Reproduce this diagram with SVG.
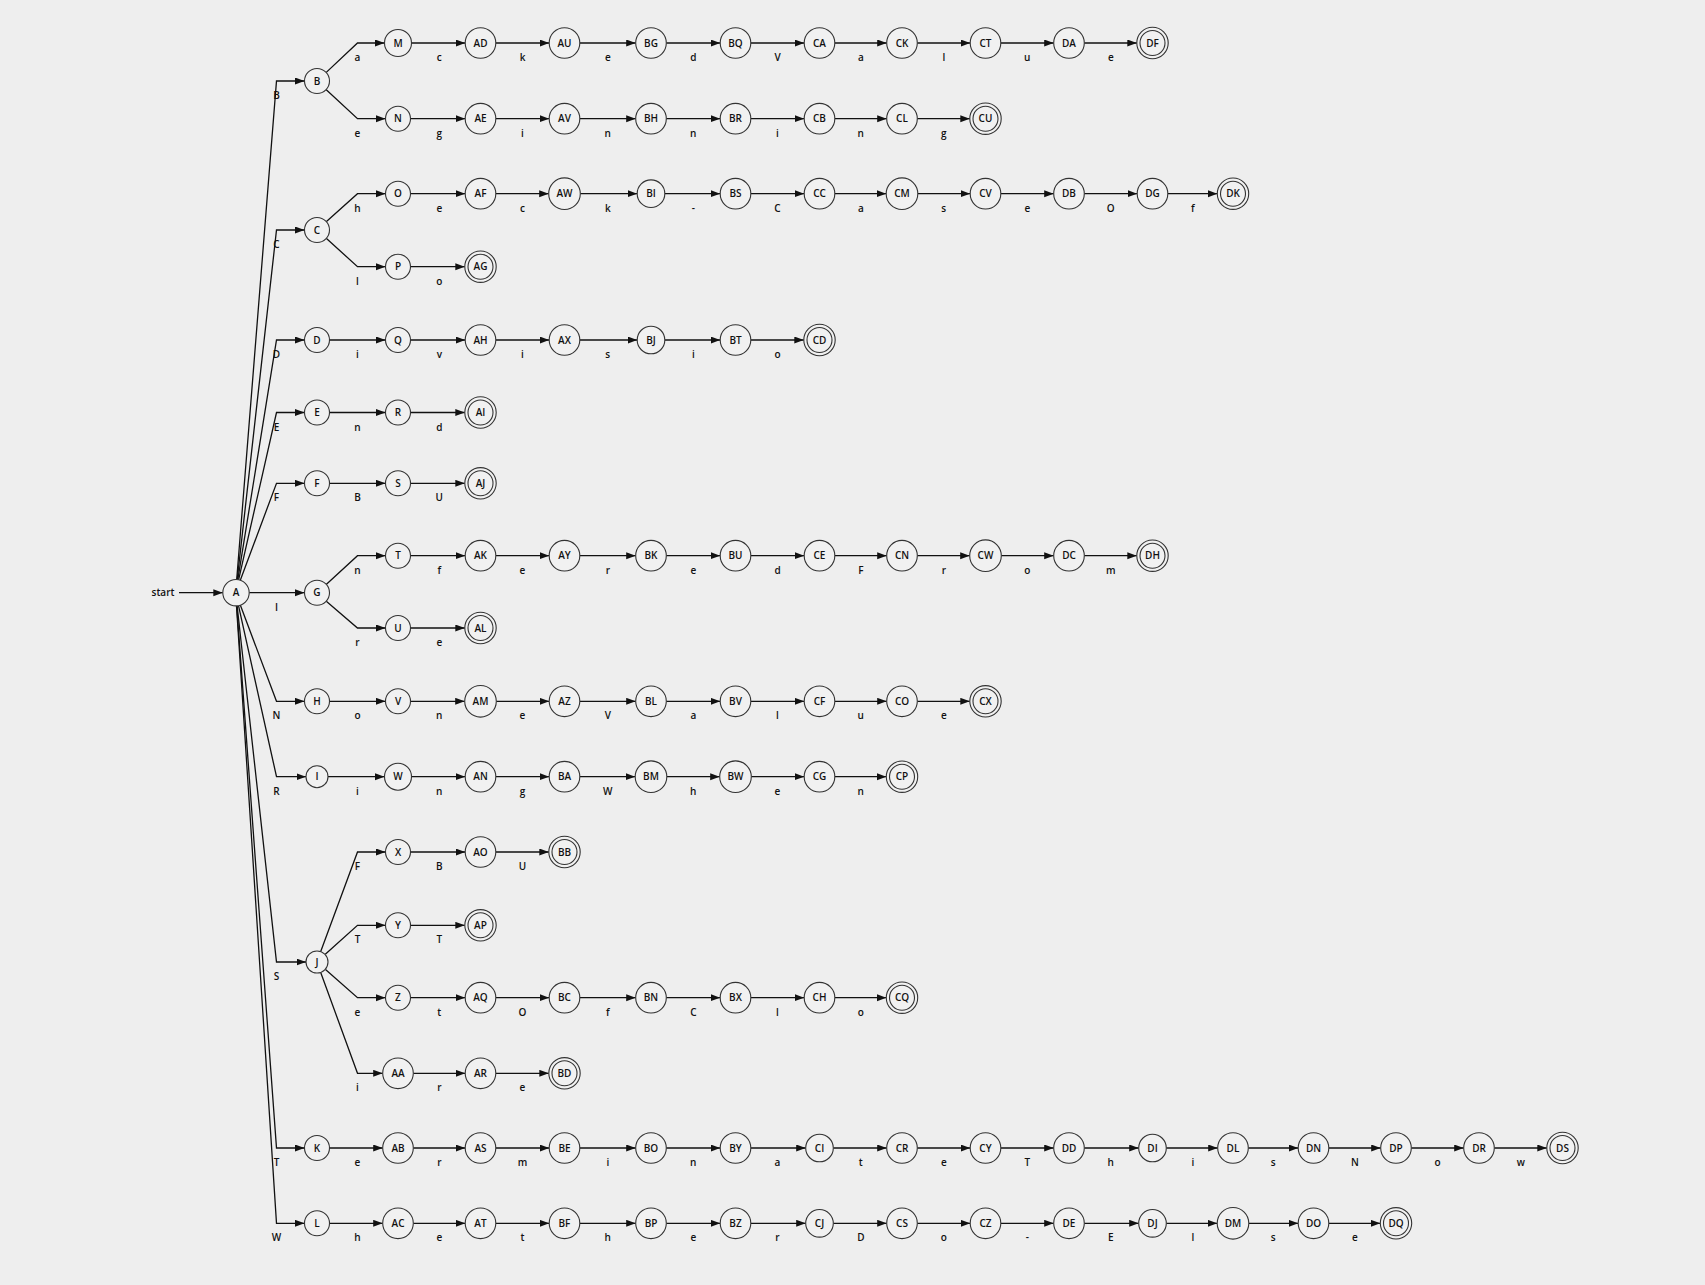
<svg xmlns="http://www.w3.org/2000/svg" width="1705" height="1285" viewBox="0 0 1705 1285">
<defs>
<marker id="ah" markerUnits="userSpaceOnUse" markerWidth="10" markerHeight="8" refX="9.5" refY="3.5" orient="auto">
<path d="M0,0 L9.5,3.5 L0,7 z" fill="#111"/>
</marker>
</defs>
<style>
.bg{fill:#eeeeee}
.n circle{fill:#f1f1f1;stroke:#333;stroke-width:1.1}
.n text,.lbl text,.st{font-family:"Open Sans","Liberation Sans",sans-serif;font-size:10px;font-weight:600;fill:#111;text-anchor:middle}
.edges path{fill:none;stroke:#111;stroke-width:1.3;marker-end:url(#ah)}
</style>
<rect class="bg" x="0" y="0" width="1705" height="1285"/>
<g id="connectors">
<g class="edges">
<path d="M179 592.7 H222.8"/>
<path d="M249.2 592.7 H304.5"/>
<path d="M236.7 579.5 L276.5 81 H304.5"/>
<path d="M237.2 579.6 L276.5 230 H304.5"/>
<path d="M237.8 579.7 L276.5 340 H304.5"/>
<path d="M238.6 579.8 L276.5 412.5 H304.5"/>
<path d="M240.3 580.3 L276.5 483.3 H304.5"/>
<path d="M240.3 605.1 L276.5 701.3 H304.5"/>
<path d="M238.5 605.6 L276.5 776.7 H306"/>
<path d="M237.1 605.8 L276.5 962 H306"/>
<path d="M236.7 605.9 L276.5 1148 H304.5"/>
<path d="M236.5 605.9 L276.5 1223.3 H304.5"/>
<path d="M326 72.6 L357.5 43 H384.5"/>
<path d="M411.5 43 H465.2"/><path d="M495.8 43 H549.2"/><path d="M579.8 43 H635.7"/><path d="M666.3 43 H720.2"/><path d="M750.8 43 H804.2"/><path d="M834.8 43 H886.7"/><path d="M917.3 43 H970.2"/><path d="M1000.8 43 H1053.7"/><path d="M1084.3 43 H1136.8"/>
<path d="M326 89.4 L357.5 118.7 H385.5"/>
<path d="M410.5 118.7 H465.2"/><path d="M495.8 118.7 H549.2"/><path d="M579.8 118.7 H635.7"/><path d="M666.3 118.7 H720.2"/><path d="M750.8 118.7 H804.2"/><path d="M834.8 118.7 H886.7"/><path d="M917.3 118.7 H969.8"/>
<path d="M326.2 221.8 L357.5 193.7 H385.5"/>
<path d="M410.5 193.7 H465.2"/><path d="M495.8 193.7 H548.7"/><path d="M580.3 193.7 H637.2"/><path d="M664.8 193.7 H720.2"/><path d="M750.8 193.7 H804.2"/><path d="M834.8 193.7 H886.2"/><path d="M917.8 193.7 H970.2"/><path d="M1000.8 193.7 H1053.7"/><path d="M1084.3 193.7 H1137.2"/><path d="M1167.8 193.7 H1217.3"/>
<path d="M326.2 238.2 L357.5 266.7 H385.5"/>
<path d="M410.5 266.7 H464.8"/>
<path d="M329.5 340 H385.5"/><path d="M410.5 340 H465.2"/><path d="M495.8 340 H549.2"/><path d="M579.8 340 H637.2"/><path d="M664.8 340 H720.2"/><path d="M750.8 340 H803.8"/>
<path d="M329.5 412.5 H385.5"/><path d="M410.5 412.5 H464.8"/>
<path d="M329.5 483.3 H385.5"/><path d="M410.5 483.3 H464.8"/>
<path d="M326.2 584.5 L357.5 555.7 H385.5"/>
<path d="M410.5 555.7 H465.2"/><path d="M495.8 555.7 H549.2"/><path d="M579.8 555.7 H635.7"/><path d="M666.3 555.7 H720.2"/><path d="M750.8 555.7 H804.2"/><path d="M834.8 555.7 H886.7"/><path d="M917.3 555.7 H969.7"/><path d="M1001.3 555.7 H1053.7"/><path d="M1084.3 555.7 H1136.8"/>
<path d="M326.3 601.3 L357.5 628 H385.5"/>
<path d="M410.5 628 H464.8"/>
<path d="M329.5 701.3 H385.5"/><path d="M410.5 701.3 H464.7"/><path d="M496.3 701.3 H549.2"/><path d="M579.8 701.3 H635.7"/><path d="M666.3 701.3 H720.2"/><path d="M750.8 701.3 H804.2"/><path d="M834.8 701.3 H886.7"/><path d="M917.3 701.3 H969.8"/>
<path d="M328 776.7 H384.5"/><path d="M411.5 776.7 H465.2"/><path d="M495.8 776.7 H549.2"/><path d="M579.8 776.7 H635.2"/><path d="M666.8 776.7 H719.7"/><path d="M751.3 776.7 H804.2"/><path d="M834.8 776.7 H886.3"/>
<path d="M320.8 951.2 L357.5 852 H385.5"/>
<path d="M410.5 852 H465.2"/><path d="M495.8 852 H548.8"/>
<path d="M325.3 954.3 L357.5 925.3 H385.5"/>
<path d="M410.5 925.3 H464.8"/>
<path d="M325.5 969.6 L357.5 997.7 H385.5"/>
<path d="M410.5 997.7 H465.2"/><path d="M495.8 997.7 H549.2"/><path d="M579.8 997.7 H635.7"/><path d="M666.3 997.7 H720.2"/><path d="M750.8 997.7 H804.2"/><path d="M834.8 997.7 H886.3"/>
<path d="M320.8 972.8 L357.5 1073.3 H382.7"/>
<path d="M413.3 1073.3 H465.2"/><path d="M495.8 1073.3 H548.8"/>
<path d="M329.5 1148 H382.7"/><path d="M413.3 1148 H465.2"/><path d="M495.8 1148 H549.2"/><path d="M579.8 1148 H635.7"/><path d="M666.3 1148 H720.2"/><path d="M750.8 1148 H805.7"/><path d="M833.3 1148 H886.7"/><path d="M917.3 1148 H970.2"/><path d="M1000.8 1148 H1053.7"/><path d="M1084.3 1148 H1138.7"/><path d="M1166.3 1148 H1217.7"/><path d="M1248.3 1148 H1298.2"/><path d="M1328.8 1148 H1380.7"/><path d="M1411.3 1148 H1463.7"/><path d="M1494.3 1148 H1546.8"/>
<path d="M329.5 1223.3 H382.7"/><path d="M413.3 1223.3 H465.2"/><path d="M495.8 1223.3 H549.2"/><path d="M579.8 1223.3 H635.7"/><path d="M666.3 1223.3 H720.2"/><path d="M750.8 1223.3 H805.7"/><path d="M833.3 1223.3 H886.7"/><path d="M917.3 1223.3 H970.2"/><path d="M1000.8 1223.3 H1053.7"/><path d="M1084.3 1223.3 H1138.7"/><path d="M1166.3 1223.3 H1217.2"/><path d="M1248.8 1223.3 H1298.2"/><path d="M1328.8 1223.3 H1380.3"/>
</g>
<g class="lbl">
<text x="276.5" y="99">B</text><text x="276.5" y="248">C</text><text x="276.5" y="358">D</text><text x="276.5" y="430.5">E</text><text x="276.5" y="501.3">F</text><text x="276.5" y="610.7">I</text><text x="276.5" y="719.3">N</text><text x="276.5" y="794.7">R</text><text x="276.5" y="980">S</text><text x="276.5" y="1166">T</text><text x="276.5" y="1241.3">W</text>
<text x="357.5" y="61">a</text><text x="439.3" y="61">c</text><text x="522.5" y="61">k</text><text x="607.8" y="61">e</text><text x="693.3" y="61">d</text><text x="777.5" y="61">V</text><text x="860.8" y="61">a</text><text x="943.8" y="61">l</text><text x="1027.3" y="61">u</text><text x="1110.8" y="61">e</text>
<text x="357.5" y="136.7">e</text><text x="439.3" y="136.7">g</text><text x="522.5" y="136.7">i</text><text x="607.8" y="136.7">n</text><text x="693.3" y="136.7">n</text><text x="777.5" y="136.7">i</text><text x="860.8" y="136.7">n</text><text x="943.8" y="136.7">g</text>
<text x="357.5" y="211.7">h</text><text x="439.3" y="211.7">e</text><text x="522.5" y="211.7">c</text><text x="607.8" y="211.7">k</text><text x="693.3" y="211.7">-</text><text x="777.5" y="211.7">C</text><text x="860.8" y="211.7">a</text><text x="943.8" y="211.7">s</text><text x="1027.3" y="211.7">e</text><text x="1110.8" y="211.7">O</text><text x="1192.8" y="211.7">f</text>
<text x="357.5" y="284.7">l</text><text x="439.3" y="284.7">o</text>
<text x="357.5" y="358">i</text><text x="439.3" y="358">v</text><text x="522.5" y="358">i</text><text x="607.8" y="358">s</text><text x="693.3" y="358">i</text><text x="777.5" y="358">o</text>
<text x="357.5" y="430.5">n</text><text x="439.3" y="430.5">d</text>
<text x="357.5" y="501.3">B</text><text x="439.3" y="501.3">U</text>
<text x="357.5" y="573.7">n</text><text x="439.3" y="573.7">f</text><text x="522.5" y="573.7">e</text><text x="607.8" y="573.7">r</text><text x="693.3" y="573.7">e</text><text x="777.5" y="573.7">d</text><text x="860.8" y="573.7">F</text><text x="943.8" y="573.7">r</text><text x="1027.3" y="573.7">o</text><text x="1110.8" y="573.7">m</text>
<text x="357.5" y="646">r</text><text x="439.3" y="646">e</text>
<text x="357.5" y="719.3">o</text><text x="439.3" y="719.3">n</text><text x="522.5" y="719.3">e</text><text x="607.8" y="719.3">V</text><text x="693.3" y="719.3">a</text><text x="777.5" y="719.3">l</text><text x="860.8" y="719.3">u</text><text x="943.8" y="719.3">e</text>
<text x="357.5" y="794.7">i</text><text x="439.3" y="794.7">n</text><text x="522.5" y="794.7">g</text><text x="607.8" y="794.7">W</text><text x="693.3" y="794.7">h</text><text x="777.5" y="794.7">e</text><text x="860.8" y="794.7">n</text>
<text x="357.5" y="870">F</text><text x="439.3" y="870">B</text><text x="522.5" y="870">U</text>
<text x="357.5" y="943.3">T</text><text x="439.3" y="943.3">T</text>
<text x="357.5" y="1015.7">e</text><text x="439.3" y="1015.7">t</text><text x="522.5" y="1015.7">O</text><text x="607.8" y="1015.7">f</text><text x="693.3" y="1015.7">C</text><text x="777.5" y="1015.7">l</text><text x="860.8" y="1015.7">o</text>
<text x="357.5" y="1091.3">i</text><text x="439.3" y="1091.3">r</text><text x="522.5" y="1091.3">e</text>
<text x="357.5" y="1166">e</text><text x="439.3" y="1166">r</text><text x="522.5" y="1166">m</text><text x="607.8" y="1166">i</text><text x="693.3" y="1166">n</text><text x="777.5" y="1166">a</text><text x="860.8" y="1166">t</text><text x="943.8" y="1166">e</text><text x="1027.3" y="1166">T</text><text x="1110.8" y="1166">h</text><text x="1192.8" y="1166">i</text><text x="1273.3" y="1166">s</text><text x="1354.8" y="1166">N</text><text x="1437.5" y="1166">o</text><text x="1520.8" y="1166">w</text>
<text x="357.5" y="1241.3">h</text><text x="439.3" y="1241.3">e</text><text x="522.5" y="1241.3">t</text><text x="607.8" y="1241.3">h</text><text x="693.3" y="1241.3">e</text><text x="777.5" y="1241.3">r</text><text x="860.8" y="1241.3">D</text><text x="943.8" y="1241.3">o</text><text x="1027.3" y="1241.3">-</text><text x="1110.8" y="1241.3">E</text><text x="1192.8" y="1241.3">l</text><text x="1273.3" y="1241.3">s</text><text x="1354.8" y="1241.3">e</text>
</g>
</g>
<g id="start"><text class="st" x="163" y="596.3">start</text></g>
<g id="A" class="n"><circle cx="236" cy="592.7" r="13.2"/><text x="236" y="596.3">A</text></g>
<g id="B" class="n"><circle cx="317" cy="81" r="12.5"/><text x="317" y="84.6">B</text></g>
<g id="C" class="n"><circle cx="317" cy="230" r="12.5"/><text x="317" y="233.6">C</text></g>
<g id="D" class="n"><circle cx="317" cy="340" r="12.5"/><text x="317" y="343.6">D</text></g>
<g id="E" class="n"><circle cx="317" cy="412.5" r="12.5"/><text x="317" y="416.1">E</text></g>
<g id="F" class="n"><circle cx="317" cy="483.3" r="12.5"/><text x="317" y="486.9">F</text></g>
<g id="G" class="n"><circle cx="317" cy="592.7" r="12.5"/><text x="317" y="596.3">G</text></g>
<g id="H" class="n"><circle cx="317" cy="701.3" r="12.5"/><text x="317" y="704.9">H</text></g>
<g id="I" class="n"><circle cx="317" cy="776.7" r="11"/><text x="317" y="780.3">I</text></g>
<g id="J" class="n"><circle cx="317" cy="962" r="11"/><text x="317" y="965.6">J</text></g>
<g id="K" class="n"><circle cx="317" cy="1148" r="12.5"/><text x="317" y="1151.6">K</text></g>
<g id="L" class="n"><circle cx="317" cy="1223.3" r="12.5"/><text x="317" y="1226.9">L</text></g>
<g id="M" class="n"><circle cx="398" cy="43" r="13.5"/><text x="398" y="46.6">M</text></g>
<g id="N" class="n"><circle cx="398" cy="118.7" r="12.5"/><text x="398" y="122.3">N</text></g>
<g id="O" class="n"><circle cx="398" cy="193.7" r="12.5"/><text x="398" y="197.3">O</text></g>
<g id="P" class="n"><circle cx="398" cy="266.7" r="12.5"/><text x="398" y="270.3">P</text></g>
<g id="Q" class="n"><circle cx="398" cy="340" r="12.5"/><text x="398" y="343.6">Q</text></g>
<g id="R" class="n"><circle cx="398" cy="412.5" r="12.5"/><text x="398" y="416.1">R</text></g>
<g id="S" class="n"><circle cx="398" cy="483.3" r="12.5"/><text x="398" y="486.9">S</text></g>
<g id="T" class="n"><circle cx="398" cy="555.7" r="12.5"/><text x="398" y="559.3">T</text></g>
<g id="U" class="n"><circle cx="398" cy="628" r="12.5"/><text x="398" y="631.6">U</text></g>
<g id="V" class="n"><circle cx="398" cy="701.3" r="12.5"/><text x="398" y="704.9">V</text></g>
<g id="W" class="n"><circle cx="398" cy="776.7" r="13.5"/><text x="398" y="780.3">W</text></g>
<g id="X" class="n"><circle cx="398" cy="852" r="12.5"/><text x="398" y="855.6">X</text></g>
<g id="Y" class="n"><circle cx="398" cy="925.3" r="12.5"/><text x="398" y="928.9">Y</text></g>
<g id="Z" class="n"><circle cx="398" cy="997.7" r="12.5"/><text x="398" y="1001.3">Z</text></g>
<g id="AA" class="n"><circle cx="398" cy="1073.3" r="15.3"/><text x="398" y="1076.9">AA</text></g>
<g id="AB" class="n"><circle cx="398" cy="1148" r="15.3"/><text x="398" y="1151.6">AB</text></g>
<g id="AC" class="n"><circle cx="398" cy="1223.3" r="15.3"/><text x="398" y="1226.9">AC</text></g>
<g id="AD" class="n"><circle cx="480.5" cy="43" r="15.3"/><text x="480.5" y="46.6">AD</text></g>
<g id="AE" class="n"><circle cx="480.5" cy="118.7" r="15.3"/><text x="480.5" y="122.3">AE</text></g>
<g id="AF" class="n"><circle cx="480.5" cy="193.7" r="15.3"/><text x="480.5" y="197.3">AF</text></g>
<g id="AG" class="n"><circle cx="480.5" cy="266.7" r="15.7"/><circle cx="480.5" cy="266.7" r="12.5"/><text x="480.5" y="270.3">AG</text></g>
<g id="AH" class="n"><circle cx="480.5" cy="340" r="15.3"/><text x="480.5" y="343.6">AH</text></g>
<g id="AI" class="n"><circle cx="480.5" cy="412.5" r="15.7"/><circle cx="480.5" cy="412.5" r="12.5"/><text x="480.5" y="416.1">AI</text></g>
<g id="AJ" class="n"><circle cx="480.5" cy="483.3" r="15.7"/><circle cx="480.5" cy="483.3" r="12.5"/><text x="480.5" y="486.9">AJ</text></g>
<g id="AK" class="n"><circle cx="480.5" cy="555.7" r="15.3"/><text x="480.5" y="559.3">AK</text></g>
<g id="AL" class="n"><circle cx="480.5" cy="628" r="15.7"/><circle cx="480.5" cy="628" r="12.5"/><text x="480.5" y="631.6">AL</text></g>
<g id="AM" class="n"><circle cx="480.5" cy="701.3" r="15.8"/><text x="480.5" y="704.9">AM</text></g>
<g id="AN" class="n"><circle cx="480.5" cy="776.7" r="15.3"/><text x="480.5" y="780.3">AN</text></g>
<g id="AO" class="n"><circle cx="480.5" cy="852" r="15.3"/><text x="480.5" y="855.6">AO</text></g>
<g id="AP" class="n"><circle cx="480.5" cy="925.3" r="15.7"/><circle cx="480.5" cy="925.3" r="12.5"/><text x="480.5" y="928.9">AP</text></g>
<g id="AQ" class="n"><circle cx="480.5" cy="997.7" r="15.3"/><text x="480.5" y="1001.3">AQ</text></g>
<g id="AR" class="n"><circle cx="480.5" cy="1073.3" r="15.3"/><text x="480.5" y="1076.9">AR</text></g>
<g id="AS" class="n"><circle cx="480.5" cy="1148" r="15.3"/><text x="480.5" y="1151.6">AS</text></g>
<g id="AT" class="n"><circle cx="480.5" cy="1223.3" r="15.3"/><text x="480.5" y="1226.9">AT</text></g>
<g id="AU" class="n"><circle cx="564.5" cy="43" r="15.3"/><text x="564.5" y="46.6">AU</text></g>
<g id="AV" class="n"><circle cx="564.5" cy="118.7" r="15.3"/><text x="564.5" y="122.3">AV</text></g>
<g id="AW" class="n"><circle cx="564.5" cy="193.7" r="15.8"/><text x="564.5" y="197.3">AW</text></g>
<g id="AX" class="n"><circle cx="564.5" cy="340" r="15.3"/><text x="564.5" y="343.6">AX</text></g>
<g id="AY" class="n"><circle cx="564.5" cy="555.7" r="15.3"/><text x="564.5" y="559.3">AY</text></g>
<g id="AZ" class="n"><circle cx="564.5" cy="701.3" r="15.3"/><text x="564.5" y="704.9">AZ</text></g>
<g id="BA" class="n"><circle cx="564.5" cy="776.7" r="15.3"/><text x="564.5" y="780.3">BA</text></g>
<g id="BB" class="n"><circle cx="564.5" cy="852" r="15.7"/><circle cx="564.5" cy="852" r="12.5"/><text x="564.5" y="855.6">BB</text></g>
<g id="BC" class="n"><circle cx="564.5" cy="997.7" r="15.3"/><text x="564.5" y="1001.3">BC</text></g>
<g id="BD" class="n"><circle cx="564.5" cy="1073.3" r="15.7"/><circle cx="564.5" cy="1073.3" r="12.5"/><text x="564.5" y="1076.9">BD</text></g>
<g id="BE" class="n"><circle cx="564.5" cy="1148" r="15.3"/><text x="564.5" y="1151.6">BE</text></g>
<g id="BF" class="n"><circle cx="564.5" cy="1223.3" r="15.3"/><text x="564.5" y="1226.9">BF</text></g>
<g id="BG" class="n"><circle cx="651" cy="43" r="15.3"/><text x="651" y="46.6">BG</text></g>
<g id="BH" class="n"><circle cx="651" cy="118.7" r="15.3"/><text x="651" y="122.3">BH</text></g>
<g id="BI" class="n"><circle cx="651" cy="193.7" r="13.8"/><text x="651" y="197.3">BI</text></g>
<g id="BJ" class="n"><circle cx="651" cy="340" r="13.8"/><text x="651" y="343.6">BJ</text></g>
<g id="BK" class="n"><circle cx="651" cy="555.7" r="15.3"/><text x="651" y="559.3">BK</text></g>
<g id="BL" class="n"><circle cx="651" cy="701.3" r="15.3"/><text x="651" y="704.9">BL</text></g>
<g id="BM" class="n"><circle cx="651" cy="776.7" r="15.8"/><text x="651" y="780.3">BM</text></g>
<g id="BN" class="n"><circle cx="651" cy="997.7" r="15.3"/><text x="651" y="1001.3">BN</text></g>
<g id="BO" class="n"><circle cx="651" cy="1148" r="15.3"/><text x="651" y="1151.6">BO</text></g>
<g id="BP" class="n"><circle cx="651" cy="1223.3" r="15.3"/><text x="651" y="1226.9">BP</text></g>
<g id="BQ" class="n"><circle cx="735.5" cy="43" r="15.3"/><text x="735.5" y="46.6">BQ</text></g>
<g id="BR" class="n"><circle cx="735.5" cy="118.7" r="15.3"/><text x="735.5" y="122.3">BR</text></g>
<g id="BS" class="n"><circle cx="735.5" cy="193.7" r="15.3"/><text x="735.5" y="197.3">BS</text></g>
<g id="BT" class="n"><circle cx="735.5" cy="340" r="15.3"/><text x="735.5" y="343.6">BT</text></g>
<g id="BU" class="n"><circle cx="735.5" cy="555.7" r="15.3"/><text x="735.5" y="559.3">BU</text></g>
<g id="BV" class="n"><circle cx="735.5" cy="701.3" r="15.3"/><text x="735.5" y="704.9">BV</text></g>
<g id="BW" class="n"><circle cx="735.5" cy="776.7" r="15.8"/><text x="735.5" y="780.3">BW</text></g>
<g id="BX" class="n"><circle cx="735.5" cy="997.7" r="15.3"/><text x="735.5" y="1001.3">BX</text></g>
<g id="BY" class="n"><circle cx="735.5" cy="1148" r="15.3"/><text x="735.5" y="1151.6">BY</text></g>
<g id="BZ" class="n"><circle cx="735.5" cy="1223.3" r="15.3"/><text x="735.5" y="1226.9">BZ</text></g>
<g id="CA" class="n"><circle cx="819.5" cy="43" r="15.3"/><text x="819.5" y="46.6">CA</text></g>
<g id="CB" class="n"><circle cx="819.5" cy="118.7" r="15.3"/><text x="819.5" y="122.3">CB</text></g>
<g id="CC" class="n"><circle cx="819.5" cy="193.7" r="15.3"/><text x="819.5" y="197.3">CC</text></g>
<g id="CD" class="n"><circle cx="819.5" cy="340" r="15.7"/><circle cx="819.5" cy="340" r="12.5"/><text x="819.5" y="343.6">CD</text></g>
<g id="CE" class="n"><circle cx="819.5" cy="555.7" r="15.3"/><text x="819.5" y="559.3">CE</text></g>
<g id="CF" class="n"><circle cx="819.5" cy="701.3" r="15.3"/><text x="819.5" y="704.9">CF</text></g>
<g id="CG" class="n"><circle cx="819.5" cy="776.7" r="15.3"/><text x="819.5" y="780.3">CG</text></g>
<g id="CH" class="n"><circle cx="819.5" cy="997.7" r="15.3"/><text x="819.5" y="1001.3">CH</text></g>
<g id="CI" class="n"><circle cx="819.5" cy="1148" r="13.8"/><text x="819.5" y="1151.6">CI</text></g>
<g id="CJ" class="n"><circle cx="819.5" cy="1223.3" r="13.8"/><text x="819.5" y="1226.9">CJ</text></g>
<g id="CK" class="n"><circle cx="902" cy="43" r="15.3"/><text x="902" y="46.6">CK</text></g>
<g id="CL" class="n"><circle cx="902" cy="118.7" r="15.3"/><text x="902" y="122.3">CL</text></g>
<g id="CM" class="n"><circle cx="902" cy="193.7" r="15.8"/><text x="902" y="197.3">CM</text></g>
<g id="CN" class="n"><circle cx="902" cy="555.7" r="15.3"/><text x="902" y="559.3">CN</text></g>
<g id="CO" class="n"><circle cx="902" cy="701.3" r="15.3"/><text x="902" y="704.9">CO</text></g>
<g id="CP" class="n"><circle cx="902" cy="776.7" r="15.7"/><circle cx="902" cy="776.7" r="12.5"/><text x="902" y="780.3">CP</text></g>
<g id="CQ" class="n"><circle cx="902" cy="997.7" r="15.7"/><circle cx="902" cy="997.7" r="12.5"/><text x="902" y="1001.3">CQ</text></g>
<g id="CR" class="n"><circle cx="902" cy="1148" r="15.3"/><text x="902" y="1151.6">CR</text></g>
<g id="CS" class="n"><circle cx="902" cy="1223.3" r="15.3"/><text x="902" y="1226.9">CS</text></g>
<g id="CT" class="n"><circle cx="985.5" cy="43" r="15.3"/><text x="985.5" y="46.6">CT</text></g>
<g id="CU" class="n"><circle cx="985.5" cy="118.7" r="15.7"/><circle cx="985.5" cy="118.7" r="12.5"/><text x="985.5" y="122.3">CU</text></g>
<g id="CV" class="n"><circle cx="985.5" cy="193.7" r="15.3"/><text x="985.5" y="197.3">CV</text></g>
<g id="CW" class="n"><circle cx="985.5" cy="555.7" r="15.8"/><text x="985.5" y="559.3">CW</text></g>
<g id="CX" class="n"><circle cx="985.5" cy="701.3" r="15.7"/><circle cx="985.5" cy="701.3" r="12.5"/><text x="985.5" y="704.9">CX</text></g>
<g id="CY" class="n"><circle cx="985.5" cy="1148" r="15.3"/><text x="985.5" y="1151.6">CY</text></g>
<g id="CZ" class="n"><circle cx="985.5" cy="1223.3" r="15.3"/><text x="985.5" y="1226.9">CZ</text></g>
<g id="DA" class="n"><circle cx="1069" cy="43" r="15.3"/><text x="1069" y="46.6">DA</text></g>
<g id="DB" class="n"><circle cx="1069" cy="193.7" r="15.3"/><text x="1069" y="197.3">DB</text></g>
<g id="DC" class="n"><circle cx="1069" cy="555.7" r="15.3"/><text x="1069" y="559.3">DC</text></g>
<g id="DD" class="n"><circle cx="1069" cy="1148" r="15.3"/><text x="1069" y="1151.6">DD</text></g>
<g id="DE" class="n"><circle cx="1069" cy="1223.3" r="15.3"/><text x="1069" y="1226.9">DE</text></g>
<g id="DF" class="n"><circle cx="1152.5" cy="43" r="15.7"/><circle cx="1152.5" cy="43" r="12.5"/><text x="1152.5" y="46.6">DF</text></g>
<g id="DG" class="n"><circle cx="1152.5" cy="193.7" r="15.3"/><text x="1152.5" y="197.3">DG</text></g>
<g id="DH" class="n"><circle cx="1152.5" cy="555.7" r="15.7"/><circle cx="1152.5" cy="555.7" r="12.5"/><text x="1152.5" y="559.3">DH</text></g>
<g id="DI" class="n"><circle cx="1152.5" cy="1148" r="13.8"/><text x="1152.5" y="1151.6">DI</text></g>
<g id="DJ" class="n"><circle cx="1152.5" cy="1223.3" r="13.8"/><text x="1152.5" y="1226.9">DJ</text></g>
<g id="DK" class="n"><circle cx="1233" cy="193.7" r="15.7"/><circle cx="1233" cy="193.7" r="12.5"/><text x="1233" y="197.3">DK</text></g>
<g id="DL" class="n"><circle cx="1233" cy="1148" r="15.3"/><text x="1233" y="1151.6">DL</text></g>
<g id="DM" class="n"><circle cx="1233" cy="1223.3" r="15.8"/><text x="1233" y="1226.9">DM</text></g>
<g id="DN" class="n"><circle cx="1313.5" cy="1148" r="15.3"/><text x="1313.5" y="1151.6">DN</text></g>
<g id="DO" class="n"><circle cx="1313.5" cy="1223.3" r="15.3"/><text x="1313.5" y="1226.9">DO</text></g>
<g id="DP" class="n"><circle cx="1396" cy="1148" r="15.3"/><text x="1396" y="1151.6">DP</text></g>
<g id="DQ" class="n"><circle cx="1396" cy="1223.3" r="15.7"/><circle cx="1396" cy="1223.3" r="12.5"/><text x="1396" y="1226.9">DQ</text></g>
<g id="DR" class="n"><circle cx="1479" cy="1148" r="15.3"/><text x="1479" y="1151.6">DR</text></g>
<g id="DS" class="n"><circle cx="1562.5" cy="1148" r="15.7"/><circle cx="1562.5" cy="1148" r="12.5"/><text x="1562.5" y="1151.6">DS</text></g>
</svg>
